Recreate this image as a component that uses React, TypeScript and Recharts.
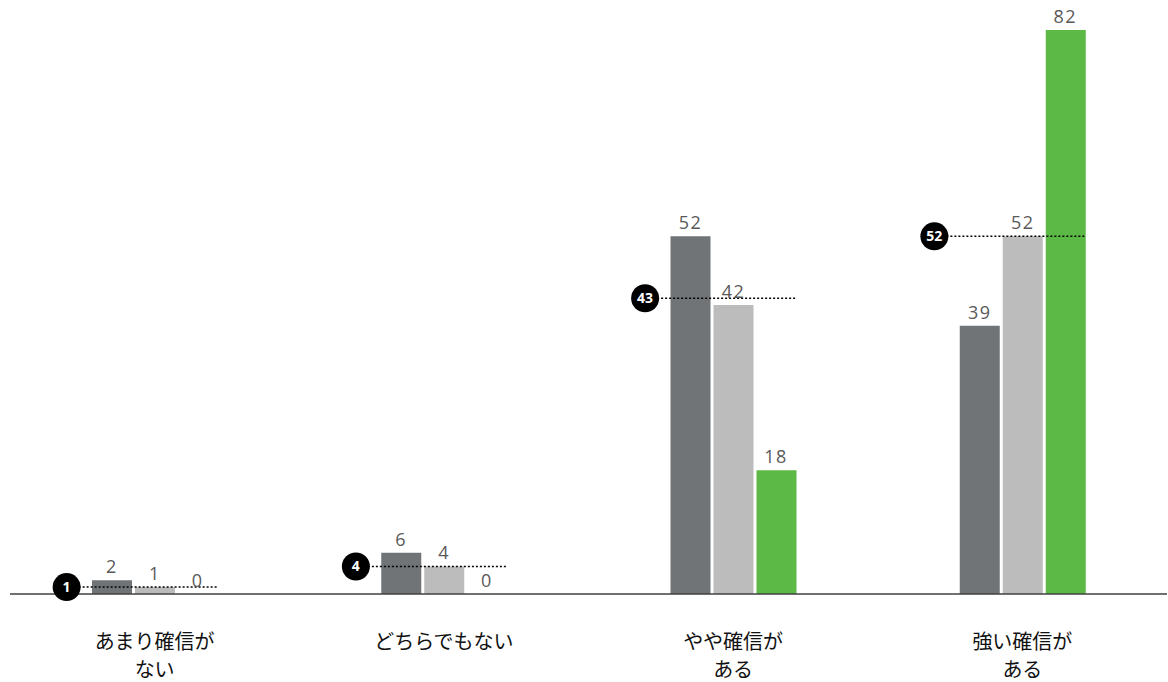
import { Bar, ComposedChart, LabelList, Line, XAxis, YAxis } from "recharts";

const categories = ["あまり確信が\nない", "どちらでもない", "やや確信が\nある", "強い確信が\nある"];
const seriesA = [2, 6, 52, 39];
const seriesB = [1, 4, 42, 52];
const seriesC = [0, 0, 18, 82];
const averages = [1, 4, 43, 52];

const COLORS = {
  a: "#717477",
  b: "#bbbcbb",
  c: "#5cb946",
  label: "#595959",
  axis: "#404040",
};

const data = categories.map((name, i) => ({
  name,
  a: seriesA[i],
  b: seriesB[i],
  c: seriesC[i],
  avg: averages[i],
}));

function CategoryTick(props: any) {
  const { x, y, payload } = props;
  const lines = String(payload.value).split("\n");
  return (
    <text
      x={x}
      y={y + 47}
      textAnchor="middle"
      fill="#111"
      fontSize={20}
      fontFamily="'Noto Sans CJK JP', sans-serif"
    >
      {lines.map((l, i) => (
        <tspan key={i} x={x} dy={i === 0 ? 0 : 28}>
          {l}
        </tspan>
      ))}
    </text>
  );
}

function AvgMarker(props: any) {
  const { cx, cy, value, index } = props;
  if (cx == null || cy == null) return null;
  const circleX = cx - 88;
  const lineEnd = cx + 63;
  return (
    <g key={`avg-${index}`}>
      <line
        x1={circleX}
        y1={cy}
        x2={lineEnd}
        y2={cy}
        stroke="#000"
        strokeWidth={1.5}
        strokeDasharray="2 2"
      />
      <circle cx={circleX} cy={cy} r={14} fill="#000" />
      <text
        x={circleX}
        y={cy + 5}
        textAnchor="middle"
        fill="#fff"
        fontSize={14}
        fontWeight="bold"
        fontFamily="'Open Sans', sans-serif"
      >
        {value}
      </text>
    </g>
  );
}

function ValueLabel(props: any) {
  const { x, y, width, value } = props;
  if (value == null) return null;
  return (
    <text
      x={Number(x) + Number(width) / 2}
      y={Number(y) - 7}
      textAnchor="middle"
      fill={COLORS.label}
      fontSize={18}
      letterSpacing={1.5}
      fontFamily="'Open Sans', sans-serif"
    >
      {value}
    </text>
  );
}

// green labels go through a hidden line so the zero values still get a label
function GreenLabel(props: any) {
  const { x, y, value, index } = props;
  if (x == null || y == null) return null;
  return (
    <text
      key={`g-${index}`}
      x={Number(x) + 43}
      y={Number(y) - 7}
      textAnchor="middle"
      fill={COLORS.label}
      fontSize={18}
      letterSpacing={1.5}
      fontFamily="'Open Sans', sans-serif"
    >
      {value}
    </text>
  );
}

export default function App() {
  return (
    <div style={{ position: "absolute", left: 0, top: 0, background: "#fff" }}>
      <ComposedChart
        width={1168}
        height={682}
        data={data}
        margin={{ top: 30, right: 1, left: 10, bottom: 8 }}
        barSize={40}
        barGap={3}
      >
        <XAxis
          dataKey="name"
          height={80}
          tickLine={false}
          axisLine={{ stroke: COLORS.axis, strokeWidth: 1.5 }}
          tick={<CategoryTick />}
          interval={0}
        />
        <YAxis hide domain={[0, 82]} />
        <Bar dataKey="a" fill={COLORS.a} isAnimationActive={false}>
          <LabelList dataKey="a" content={<ValueLabel />} />
        </Bar>
        <Bar dataKey="b" fill={COLORS.b} isAnimationActive={false}>
          <LabelList dataKey="b" content={<ValueLabel />} />
        </Bar>
        <Bar dataKey="c" fill={COLORS.c} isAnimationActive={false} />
        <Line
          dataKey="c"
          stroke="none"
          dot={false}
          activeDot={false}
          label={<GreenLabel />}
          isAnimationActive={false}
        />
        <Line
          dataKey="avg"
          stroke="none"
          dot={(p: any) => <AvgMarker {...p} key={`m-${p.index}`} />}
          activeDot={false}
          isAnimationActive={false}
        />
      </ComposedChart>
    </div>
  );
}
